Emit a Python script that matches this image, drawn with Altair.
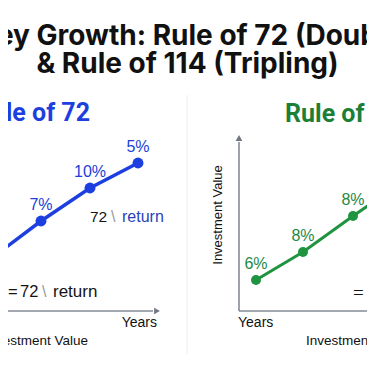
import altair as alt
import pandas as pd

# ---- data (picture frame: x to the right, y downwards) ----
title_lines = ["Money Growth: Rule of 72 (Doubling)", "& Rule of 114 (Tripling)"]
title_x = [187.5, 187.5]
title_y = [45, 73]

panel_titles = ["Rule of 72", "Rule of 114"]
panel_title_x = [90, 285]
panel_title_y = [121, 122]

# Rule of 72 curve (blue)
r72_x = [-20, 41, 90, 138]
r72_y = [267, 221, 188, 163]
r72_lab = ["", "7%", "10%", "5%"]

# Rule of 114 curve (green)
r114_x = [256, 303, 353, 398]
r114_y = [280, 252, 216, 185]
r114_lab = ["6%", "8%", "8%", ""]

# formula annotations (pieces)
eq_x = [8]
eq_y = [292]
num_text = ["72", "72"]
num_x = [90, 20]
num_y = [217, 292]
slash_x = [111, 42]
slash_y = [217, 292]
ret_x = [122, 53]
ret_y = [217, 292]
f114_text = ["= 114 \\ return"]
f114_x = [353]
f114_y = [293]

# axis texts
years_text = ["Years", "Years"]
years_x = [157, 238]
years_y = [323, 323]
inv_text = ["Investment Value", "Investment Value"]
inv_x = [88, 306]
inv_y = [341, 341]
inv_rot_x = [218]
inv_rot_y = [215]

# axis lines
ax_x = [-10, 239, 239]
ax_x2 = [153, 239, 390]
ax_y = [311, 311, 311]
ax_y2 = [311, 142, 311]
arrow_x = [157, 239]
arrow_y = [311, 138]
arrow_shape = ["triangle-right", "triangle-up"]

divider_x = [187]
divider_y = [95]
divider_y2 = [380]

W, H = 359, 346
X = alt.Scale(domain=[8, 8 + W], nice=False, zero=False)
Y = alt.Scale(domain=[8, 8 + H], nice=False, zero=False, reverse=True)


def enc(chart):
    return chart.encode(
        x=alt.X("x:Q", scale=X, axis=None),
        y=alt.Y("y:Q", scale=Y, axis=None),
    )


def text_layer(xs, ys, texts, **kw):
    df = pd.DataFrame({"x": xs, "y": ys, "t": texts})
    return enc(alt.Chart(df).mark_text(**kw)).encode(text="t:N")


BLUE = "#1d3fe0"
GREEN = "#1f9440"

layers = []

# divider of the left card
layers.append(
    alt.Chart(pd.DataFrame({"x": divider_x, "y": divider_y, "y2": divider_y2}))
    .mark_rule(color="#f3f3f3", strokeWidth=1.5)
    .encode(x=alt.X("x:Q", scale=X, axis=None), y=alt.Y("y:Q", scale=Y, axis=None), y2="y2:Q")
)

# axis lines
layers.append(
    alt.Chart(pd.DataFrame({"x": ax_x, "x2": ax_x2, "y": ax_y, "y2": ax_y2}))
    .mark_rule(color="#858b96", strokeWidth=1.6)
    .encode(x=alt.X("x:Q", scale=X, axis=None), x2="x2:Q",
            y=alt.Y("y:Q", scale=Y, axis=None), y2="y2:Q")
)
for ax, ay, sh in zip(arrow_x, arrow_y, arrow_shape):
    layers.append(enc(alt.Chart(pd.DataFrame({"x": [ax], "y": [ay]}))
                      .mark_point(shape=sh, filled=True, color="#6f7682", size=45, opacity=1)))

# title
layers.append(text_layer(title_x, title_y, title_lines, font="Inter", fontWeight="bold",
                         fontSize=28, align="center", baseline="alphabetic", color="#111111"))
# panel titles
layers.append(text_layer(panel_title_x[:1], panel_title_y[:1], panel_titles[:1], font="Roboto",
                         fontWeight="bold", fontSize=25, align="right", baseline="alphabetic", color=BLUE))
layers.append(text_layer(panel_title_x[1:], panel_title_y[1:], panel_titles[1:], font="Roboto",
                         fontWeight="bold", fontSize=25, align="left", baseline="alphabetic", color="#1b7f38"))

# curves
r72 = pd.DataFrame({"x": r72_x, "y": r72_y, "t": r72_lab})
r114 = pd.DataFrame({"x": r114_x, "y": r114_y, "t": r114_lab})
for df, col, lab_col, sw, sz in [(r72, BLUE, "#2040d8", 3.5, 120), (r114, GREEN, "#238a45", 3, 100)]:
    layers.append(enc(alt.Chart(df).mark_line(color=col, strokeWidth=sw)).encode(order="x:Q"))
    layers.append(enc(alt.Chart(df).mark_circle(color=col, size=sz, opacity=1)))
    layers.append(enc(alt.Chart(df).mark_text(color=lab_col, font="Liberation Sans", fontSize=16,
                                              dy=-16, align="center", baseline="middle"))
                  .encode(text="t:N"))

# formula annotations
layers.append(text_layer(eq_x, eq_y, ["="], font="Liberation Sans", fontSize=16.5,
                         align="left", baseline="middle", color="#151515"))
layers.append(text_layer(num_x[:1], num_y[:1], num_text[:1], font="Liberation Sans", fontSize=15.5,
                         align="left", baseline="middle", color="#151515"))
layers.append(text_layer(num_x[1:], num_y[1:], num_text[1:], font="Liberation Sans", fontSize=16.5,
                         align="left", baseline="middle", color="#151515"))
layers.append(text_layer(slash_x, slash_y, ["\\", "\\"], font="Liberation Sans", fontSize=16,
                         align="left", baseline="middle", color="#9a9a9a"))
layers.append(text_layer(ret_x[:1], ret_y[:1], ["return"], font="Liberation Sans", fontSize=16,
                         align="left", baseline="middle", color="#2a3fb8"))
layers.append(text_layer(ret_x[1:], ret_y[1:], ["return"], font="Liberation Sans", fontSize=17,
                         align="left", baseline="middle", color="#151515"))
layers.append(text_layer(f114_x, f114_y, f114_text, font="Liberation Serif", fontSize=19,
                         align="left", baseline="middle", color="#151515"))

# axis texts
layers.append(text_layer(years_x[:1], years_y[:1], years_text[:1], font="Liberation Sans", fontSize=14,
                         align="right", baseline="middle", color="#111111"))
layers.append(text_layer(years_x[1:], years_y[1:], years_text[1:], font="Liberation Sans", fontSize=14,
                         align="left", baseline="middle", color="#111111"))
layers.append(text_layer(inv_x[:1], inv_y[:1], inv_text[:1], font="Liberation Sans", fontSize=13.5,
                         align="right", baseline="middle", color="#111111"))
layers.append(text_layer(inv_x[1:], inv_y[1:], inv_text[1:], font="Liberation Sans", fontSize=13.5,
                         align="left", baseline="middle", color="#111111"))
layers.append(text_layer(inv_rot_x, inv_rot_y, ["Investment Value"], font="Liberation Sans", fontSize=13,
                         align="center", baseline="middle", angle=270, color="#111111"))

chart = (
    alt.layer(*layers)
    .properties(width=W, height=H, padding=0, autosize=alt.AutoSizeParams(type="none"),
                background="white")
    .configure_view(stroke=None)
)

chart.save("out.html", embed_options={"renderer": "svg", "actions": False})
